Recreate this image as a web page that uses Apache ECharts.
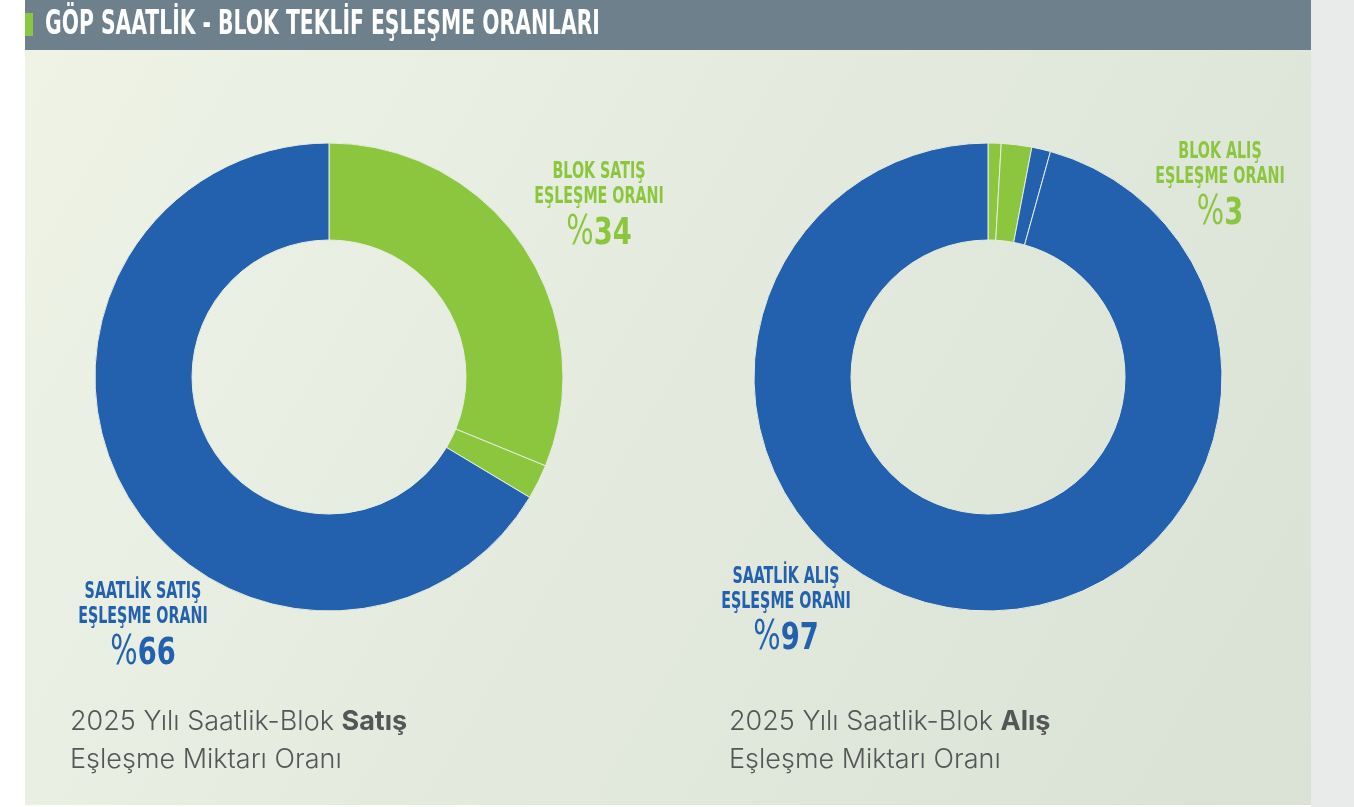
<!DOCTYPE html>
<html>
<head>
<meta charset="utf-8">
<title>GÖP Saatlik - Blok Teklif Eşleşme Oranları</title>
<script src="https://cdn.jsdelivr.net/npm/echarts@6/dist/echarts.min.js"></script>
<style>
  html, body { margin: 0; padding: 0; background: #ffffff; }
  #chart { width: 1354px; height: 807px; }
</style>
</head>
<body>
<div id="chart"></div>
<script>
// satış tarafı (sol halka)
var satisNames = ['Blok Satış 1', 'Blok Satış 2', 'Saatlik Satış'];
var satisValues = [31.2, 2.4, 66.4];
var satisColors = ['#8cc63f', '#8cc63f', '#2361ae'];

// alış tarafı (sağ halka)
var alisNames = ['Blok Alış 1', 'Blok Alış 2', 'Saatlik Alış 1', 'Saatlik Alış 2'];
var alisValues = [0.9, 2.1, 1.3, 95.7];
var alisColors = ['#8cc63f', '#8cc63f', '#2361ae', '#2361ae'];

// etiket yüzdeleri
var blokSatisPct = 34, saatlikSatisPct = 66;
var blokAlisPct = 3, saatlikAlisPct = 97;

var GREEN = '#8cc63f', BLUE = '#2361ae';
var COND = '"DejaVu Sans Condensed", "DejaVu Sans", sans-serif';

function toData(names, values, colors) {
  return names.map(function (n, i) {
    return { name: n, value: values[i], itemStyle: { color: colors[i] } };
  });
}

// dar yazı yok, yatayda sıkıştırıyoruz
function bigLabel(l1, l2, pct, color, x, y) {
  return {
    type: 'group', x: x, y: y, z: 10,
    children: [
      {
        type: 'group', scaleX: 0.69,
        children: [{
          type: 'text',
          style: {
            text: '{a|' + l1 + '}\n{a|' + l2 + '}',
            align: 'center', verticalAlign: 'top',
            rich: { a: { fontFamily: COND, fontWeight: 'bold', fontSize: 23, fill: color, lineHeight: 25, align: 'center' } }
          }
        }]
      },
      {
        type: 'group', y: 50, scaleX: 0.8,
        children: [{
          type: 'text',
          style: {
            text: '{p|%}{n|' + pct + '}',
            align: 'center', verticalAlign: 'top',
            rich: {
              p: { fontFamily: COND, fontWeight: 'normal', fontSize: 40, fill: color, lineHeight: 48 },
              n: { fontFamily: COND, fontWeight: 'bold', fontSize: 38, fill: color, lineHeight: 48 }
            }
          }
        }]
      }
    ]
  };
}

function caption(word, x) {
  return {
    left: x, top: 698,
    text: '{r|2025 Yılı Saatlik-Blok }{b|' + word + '}\n{r|Eşleşme Miktarı Oranı}',
    textStyle: {
      rich: {
        r: { fontFamily: 'Inter, "Open Sans", sans-serif', fontWeight: 300, fontSize: 27, color: '#555658', lineHeight: 38 },
        b: { fontFamily: 'Inter, "Open Sans", sans-serif', fontWeight: 'bold', fontSize: 27, color: '#555658', lineHeight: 38 }
      }
    }
  };
}

var myChart = echarts.init(document.getElementById('chart'));
myChart.setOption({
  animation: false,
  backgroundColor: '#ffffff',
  graphic: [
    { type: 'rect', z: -10, shape: { x: 1311, y: 0, width: 43, height: 807 }, style: { fill: '#e9ebea' } },
    {
      type: 'rect', z: -10, shape: { x: 25, y: 50, width: 1286, height: 755 },
      style: {
        fill: new echarts.graphic.LinearGradient(0, 0, 1, 1, [
          { offset: 0, color: '#eef3e6' },
          { offset: 1, color: '#d9e2d5' }
        ])
      }
    },
    { type: 'rect', z: -5, shape: { x: 25, y: 0, width: 1286, height: 50 }, style: { fill: '#6d808c' } },
    { type: 'rect', z: -4, shape: { x: 25, y: 13, width: 8, height: 23 }, style: { fill: GREEN } },
    {
      type: 'group', x: 45, y: 8, scaleX: 0.665, z: 10,
      children: [{
        type: 'text', x: 0, y: 0,
        style: {
          text: 'GÖP SAATLİK - BLOK TEKLİF EŞLEŞME ORANLARI',
          fill: '#ffffff', fontFamily: COND, fontWeight: 'bold', fontSize: 34, verticalAlign: 'top'
        }
      }]
    },
    bigLabel('BLOK SATIŞ', 'EŞLEŞME ORANI', blokSatisPct, GREEN, 599, 160),
    bigLabel('SAATLİK SATIŞ', 'EŞLEŞME ORANI', saatlikSatisPct, BLUE, 143, 580),
    bigLabel('BLOK ALIŞ', 'EŞLEŞME ORANI', blokAlisPct, GREEN, 1220, 140),
    bigLabel('SAATLİK ALIŞ', 'EŞLEŞME ORANI', saatlikAlisPct, BLUE, 786, 565)
  ],
  title: [
    caption('Satış', 65),
    caption('Alış', 724)
  ],
  series: [
    {
      type: 'pie', center: [329, 377], radius: [137, 234], startAngle: 90,
      label: { show: false }, labelLine: { show: false }, silent: true,
      itemStyle: { borderColor: '#e6ede0', borderWidth: 1 },
      data: toData(satisNames, satisValues, satisColors)
    },
    {
      type: 'pie', center: [988, 377], radius: [137, 234], startAngle: 90,
      label: { show: false }, labelLine: { show: false }, silent: true,
      itemStyle: { borderColor: '#e6ede0', borderWidth: 1 },
      data: toData(alisNames, alisValues, alisColors)
    }
  ]
});
</script>
</body>
</html>
